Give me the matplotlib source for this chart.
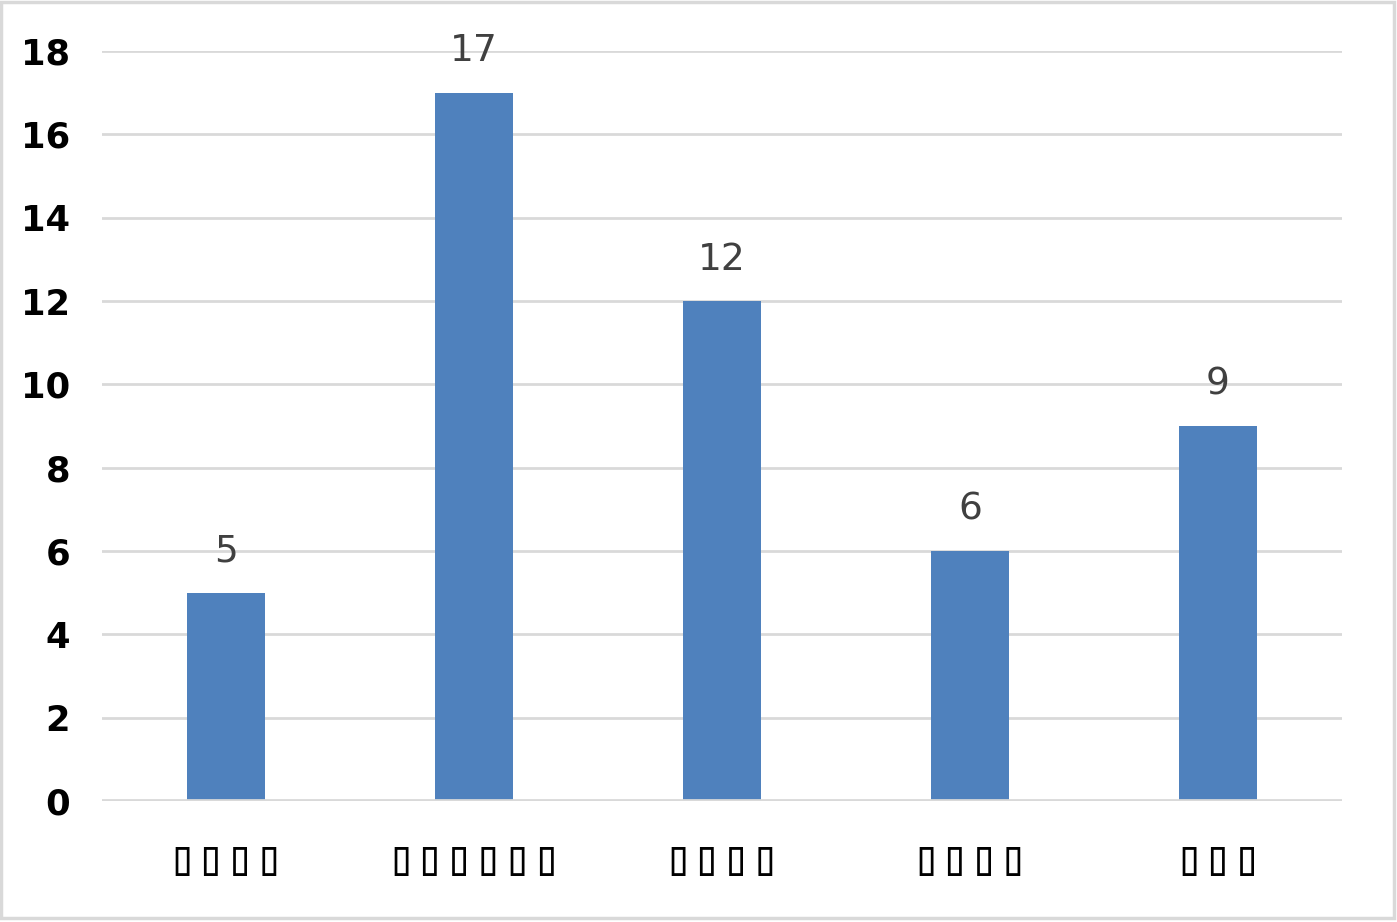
import numpy as np
import matplotlib.pyplot as plt
from matplotlib.patches import Rectangle

# category labels render as empty boxes in the source image
categories = ['▯▯▯▯', '▯▯▯▯▯▯', '▯▯▯▯', '▯▯▯▯', '▯▯▯']
values = [5, 17, 12, 6, 9]
yticks = [0, 2, 4, 6, 8, 10, 12, 14, 16, 18]

fig = plt.figure(figsize=(13.97, 9.22), dpi=100)
ax = fig.add_axes([0.073, 0.1312, 0.8876, 0.8135])

x = np.arange(len(categories))
ax.bar(x, values, width=0.314, color='#4F81BD', zorder=2)
ax.axhline(0, color='#D9D9D9', lw=2.7, zorder=3)

for xi, v in zip(x, values):
    ax.annotate(str(v), (xi, v), xytext=(0, 22.5), textcoords='offset points',
                ha='center', va='baseline', fontsize=27, color='#404040', zorder=4)

ax.set_xlim(-0.5, len(categories) - 0.5)
ax.set_ylim(0, 18)
ax.set_yticks(yticks)
ax.set_xticks(x)
ax.set_xticklabels(categories, fontsize=35, family='DejaVu Sans Mono')
for lab in ax.get_yticklabels():
    lab.set_fontsize(25.5)
    lab.set_fontweight('bold')
ax.tick_params(axis='y', length=0, pad=23)
ax.tick_params(axis='x', length=0, pad=25)
ax.grid(axis='y', color='#D9D9D9', lw=2.0, zorder=0)
ax.set_axisbelow(True)
for s in ax.spines.values():
    s.set_visible(False)

# light border around the chart area
fig.patches.append(Rectangle((0.001, 0.004), 0.997, 0.994, transform=fig.transFigure,
                             fill=False, edgecolor='#D9D9D9', lw=2.5))

fig.savefig('out.png', dpi=100)
